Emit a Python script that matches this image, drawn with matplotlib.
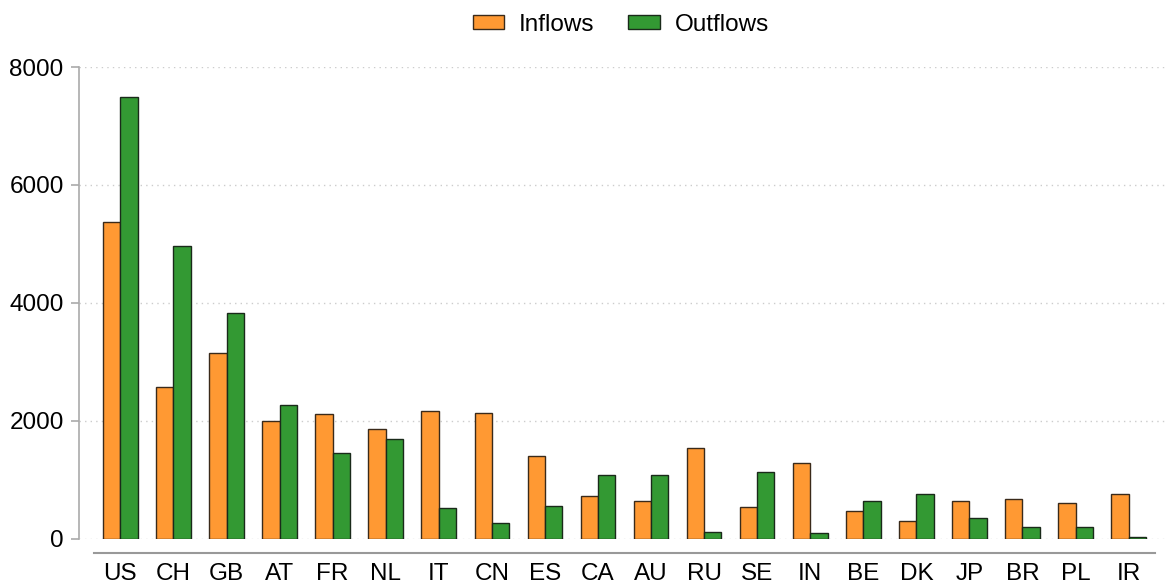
import matplotlib.pyplot as plt
import numpy as np

plt.rcParams['font.family'] = ['Liberation Sans', 'DejaVu Sans']

countries = ["US", "CH", "GB", "AT", "FR", "NL", "IT", "CN", "ES", "CA",
             "AU", "RU", "SE", "IN", "BE", "DK", "JP", "BR", "PL", "IR"]
inflows = [5365, 2580, 3150, 1990, 2120, 1860, 2160, 2140, 1400, 725,
           640, 1545, 540, 1290, 465, 295, 640, 675, 610, 755]
outflows = [7490, 4960, 3835, 2270, 1455, 1690, 520, 270, 555, 1085,
            1075, 120, 1125, 92, 640, 765, 355, 200, 200, 35]
yticks = [0, 2000, 4000, 6000, 8000]

fig = plt.figure(figsize=(11.67, 5.85), dpi=100)
ax = fig.add_axes([0.0677, 0.0791, 0.9303, 0.8063])

x = np.arange(len(countries))
w = 0.326
ax.bar(x - w / 2, inflows, w, color="#ff9933", edgecolor="#3a2a1a",
       linewidth=1.0, label="Inflows", zorder=3)
ax.bar(x + w / 2, outflows, w, color="#339933", edgecolor="#1a2a1a",
       linewidth=1.0, label="Outflows", zorder=3)

ax.set_xlim(-0.78, 19.68)
ax.set_ylim(0, 8000)
ax.set_yticks(yticks)
ax.set_xticks(x)
ax.set_xticklabels(countries)

# dotted grid lines like the original
ax.yaxis.grid(True, linestyle=(0, (1, 3)), color="#cccccc", linewidth=1.0)
ax.set_axisbelow(True)

for s in ["top", "right"]:
    ax.spines[s].set_visible(False)
ax.spines["bottom"].set_position(("outward", 10))
ax.spines["bottom"].set_bounds(-0.5, 19.5)
ax.spines["bottom"].set_color("#999999")
ax.spines["bottom"].set_linewidth(1.5)
ax.spines["left"].set_color("#aaaaaa")
ax.spines["left"].set_linewidth(1.2)

ax.tick_params(axis="x", length=0, pad=7.5, labelsize=17.5)
ax.tick_params(axis="y", length=6, width=1.2, color="#aaaaaa", pad=5,
               labelsize=17.5)

fig.legend(loc="center", bbox_to_anchor=(0.532, 0.958), ncol=2, frameon=False,
           fontsize=17.5, handlelength=1.3, handleheight=0.5,
           columnspacing=1.4, handletextpad=0.6)

fig.savefig("out.png", dpi=100)
